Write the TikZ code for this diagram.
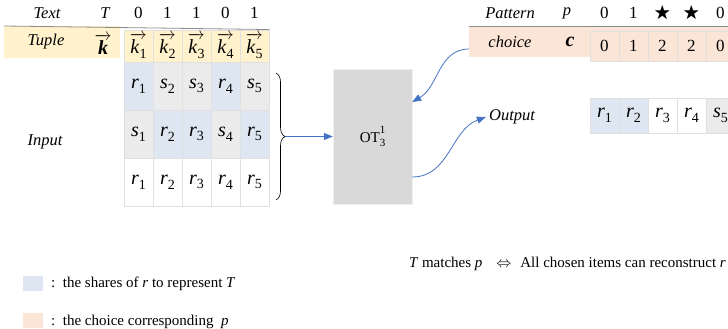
\RequirePackage{fix-cm}
\documentclass[tikz,border=0pt]{standalone}
\usepackage{amsmath,amssymb}
\usepackage{fontspec}
\setmainfont{Liberation Serif}
\usepackage{tikz}
\usetikzlibrary{matrix, positioning, arrows.meta, decorations.pathreplacing, calc}

\definecolor{shareblue}{HTML}{DEE7F1}
\definecolor{cellgray}{HTML}{EBEBEB}
\definecolor{tupleyellow}{HTML}{FFF2CC}
\definecolor{choiceorange}{HTML}{FBE5D6}
\definecolor{otgray}{HTML}{D9D9D9}
\definecolor{flowblue}{HTML}{4472C4}

% indexed share, e.g. r_1
\newcommand{\ix}[2]{{\fontsize{20}{21}\selectfont\textit{#1}}\raisebox{-0.28em}{\fontsize{14}{14}\selectfont #2}}
\newcommand{\kv}[1]{$\overrightarrow{\hbox{\ix{k}{#1}}}$}

\begin{document}
\begin{tikzpicture}[x=1pt, y=-1pt, font=\fontsize{17}{20}\selectfont,
	cell/.style={draw=black!12, line width=0.8pt, minimum width=29pt, minimum height=48pt, inner sep=0pt, anchor=center},
	sh/.style={fill=shareblue}, gr/.style={fill=cellgray},
	lbl/.style={font=\fontsize{16.5}{18}\selectfont\itshape, inner sep=0pt},
	hd/.style={inner sep=0pt},
	flow/.style={draw=flowblue, line width=0.8pt, -{Triangle[length=9pt,width=7pt]}},
	small/.style={font=\fontsize{15}{17}\selectfont, inner sep=1pt}]
				\useasboundingbox (0,0) rectangle (728,329);
				\coordinate (hdr) at (0,13);
				
				% tuple row and input shares
				\fill[tupleyellow] (4,26) rectangle (120,58);
				\matrix (m) [matrix of nodes, anchor=north west,
				nodes={cell}, column sep=-0.8pt, row sep=-0.8pt,
				row 1/.style={nodes={minimum height=32pt, fill=tupleyellow}}] at (120,26) {
					\kv{1} & \kv{2} & \kv{3} & \kv{4} & \kv{5} \\
					|[sh]| \ix{r}{1} & |[gr]| \ix{s}{2} & |[gr]| \ix{s}{3} & |[sh]| \ix{r}{4} & |[gr]| \ix{s}{5} \\
					|[gr]| \ix{s}{1} & |[sh]| \ix{r}{2} & |[sh]| \ix{r}{3} & |[gr]| \ix{s}{4} & |[sh]| \ix{r}{5} \\
					\ix{r}{1} & \ix{r}{2} & \ix{r}{3} & \ix{r}{4} & \ix{r}{5} \\
				};
				\draw[black!45, line width=0.8pt] (4,26) -- (m-1-5.north east);
				\node[lbl] (text) at (47,13) {Text};
				\node[lbl] (tsym) at (105,13) {T};
				\foreach \b [count=\i] in {0,1,1,0,1}
					\node[hd] at (m-1-\i |- hdr) {\b};
				\node[lbl] (tuple) at (46,42) {Tuple};
				\node[hd] (kvec) at (103,44) {$\overrightarrow{\hbox{\fontsize{20}{21}\selectfont\bfseries\itshape k}}$};
				\node[lbl] (input) at (45,142) {Input};
				
				% brace into the OT box
				\draw[decorate, decoration={brace, amplitude=9pt}, line width=0.6pt] (276,73) -- (276,200);
				\coordinate (tip) at (285,136.5);
				\node[fill=otgray, draw=black!6, minimum width=79pt, minimum height=135pt] (ot) at (372.5,136.5)
					{\fontsize{15}{16}\selectfont OT\makebox[0pt][l]{\raisebox{0.62em}{\fontsize{11}{11}\selectfont 1}}\raisebox{-0.3em}{\fontsize{11}{11}\selectfont 3}};
				\draw[flow] (tip) -- (tip -| ot.west);
				
				% pattern and choice
				\node[fill=choiceorange, minimum width=280pt, minimum height=30pt, anchor=west, inner sep=0pt] (cband) at (469,42) {};
				\matrix (c) [matrix of nodes, anchor=north west,
				nodes={cell, minimum height=30pt, fill=choiceorange}, column sep=-0.8pt] at (586,27) {
					0 & 1 & 2 & 2 & 0 \\
				};
				\draw[black!45, line width=0.8pt] (cband.north west) -- (cband.north east);
				\node[lbl] (pattern) at (510,13) {Pattern};
				\node[lbl] (psym) at (567,13) {p};
				\foreach \b [count=\i] in {0,1,$\bigstar$,$\bigstar$,0}
					\node[hd] at (c-1-\i |- hdr) {\b};
				\node[lbl] (choice) at (510,42) {choice};
				\node[hd] (cvec) at (570,42) {\fontsize{20}{21}\selectfont\bfseries\itshape c};
				
				% output shares
				\node[lbl] (outl) at (512,117) {Output};
				\matrix (o) [matrix of nodes, anchor=north west,
				nodes={cell, minimum height=35pt}, column sep=-0.8pt] at (586,94) {
					|[sh]| \ix{r}{1} & |[sh]| \ix{r}{2} & \ix{r}{3} & \ix{r}{4} & |[gr]| \ix{s}{5} \\
				};
				
				\draw[flow] ([yshift=-7pt]cband.west) to[out=180, in=30] ([yshift=34.5pt]ot.east);
				\draw[flow] ([yshift=-40.5pt]ot.east) to[out=0, in=200] ([xshift=-3pt]outl.west);
				
				% matching rule and legend
				\node[small, anchor=east] (rule) at (727,264) {\textit{T} matches \textit{p}\hspace{14pt}$\Leftrightarrow$\hspace{9pt}All chosen items can reconstruct \textit{r}};
				\node[fill=shareblue, minimum width=20pt, minimum height=15pt, inner sep=0pt] (keyb) at (33,283.5) {};
				\node[small, anchor=west] (keybt) at (50,284) {:\ \ the shares of \textit{r} to represent \textit{T}};
				\node[fill=choiceorange, minimum width=20pt, minimum height=15pt, inner sep=0pt] (keyo) at (33,320.5) {};
				\node[small, anchor=west] (keyot) at (50,322) {:\ \ the choice corresponding \ \textit{p}};
			\end{tikzpicture}
\end{document}
